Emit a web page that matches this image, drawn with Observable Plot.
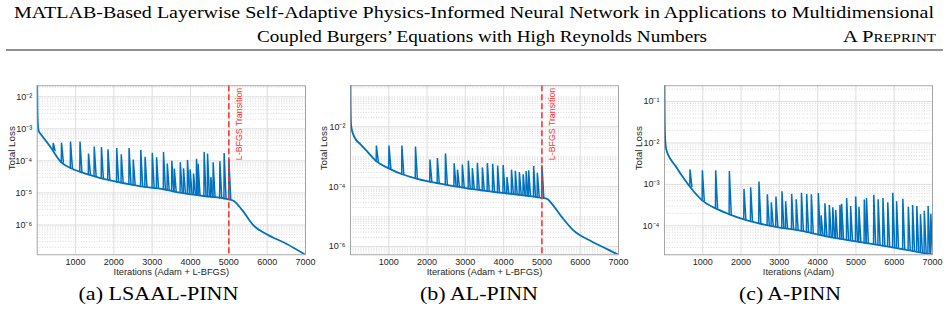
<!DOCTYPE html>
<html>
<head>
<meta charset="utf-8">
<script src="https://cdn.jsdelivr.net/npm/d3@7"></script>
<script src="https://cdn.jsdelivr.net/npm/@observablehq/plot@0.6"></script>
<style>
  body { margin: 0; background: #fff; }
  #page { position: relative; width: 948px; height: 311px; overflow: hidden; background: #fff; }
  .abs { position: absolute; left: 0; }
  .panel { position: absolute; top: 80px; }
</style>
</head>
<body>
<div id="page"></div>
<script>
// ---- Shared axis values ----
const iterTicks = [1000, 2000, 3000, 4000, 5000, 6000, 7000];
const transitionIter = 5000;

// ---- (a) LSAAL-PINN: smooth loss trend and loss spikes ----
const lsaalTrendIter = [1, 8, 20, 40, 86, 217, 347, 434, 522, 626, 870, 1130, 1650, 2090, 2700, 3300, 3570, 4350, 5000, 5130, 5350, 5650, 6000, 6500, 7000];
const lsaalTrendLoss = [2.2e-2, 4e-3, 1.3e-3, 8.5e-4, 7.0e-4, 4.4e-4, 2.7e-4, 1.9e-4, 1.3e-4, 9.1e-5, 6.0e-5, 4.5e-5, 2.9e-5, 2.2e-5, 1.6e-5, 1.3e-5, 1.1e-5, 8.0e-6, 6.3e-6, 5.6e-6, 2.9e-6, 9.5e-7, 5.0e-7, 2.6e-7, 1.17e-7];
const lsaalSpikeIter = [413, 629, 864, 1112, 1334, 1483, 1671, 1841, 2070, 2188, 2392, 2501, 2697, 2809, 2997, 3110, 3290, 3389, 3507, 3572, 3728, 3812, 3916, 3984, 4073, 4151, 4193, 4350, 4439, 4525, 4585, 4760, 4872, 4995];
const lsaalSpikePeak = [3.6e-4, 3.7e-4, 4.0e-4, 4.0e-4, 1.7e-4, 2.8e-4, 2.7e-4, 2.3e-4, 2.5e-4, 1.6e-4, 2.5e-4, 1.1e-4, 2.2e-4, 1.35e-4, 1.8e-4, 1.3e-4, 1.9e-4, 8.3e-5, 1.0e-4, 5.8e-5, 9.1e-5, 5.9e-5, 1.07e-4, 5.4e-5, 4.0e-5, 1.17e-4, 8.1e-5, 1.9e-4, 1.7e-4, 3.1e-5, 9.1e-5, 9.8e-5, 1.75e-4, 1.15e-4];
const lsaalSpikeBase = [2.1e-4, 9.1e-5, 6.0e-5, 4.6e-5, 3.8e-5, 3.3e-5, 2.9e-5, 2.6e-5, 2.2e-5, 2.1e-5, 1.9e-5, 1.75e-5, 1.6e-5, 1.55e-5, 1.45e-5, 1.4e-5, 1.3e-5, 1.25e-5, 1.15e-5, 1.1e-5, 1.05e-5, 1.0e-5, 9.6e-6, 9.3e-6, 9.0e-6, 8.7e-6, 8.5e-6, 8.0e-6, 7.7e-6, 7.4e-6, 7.2e-6, 6.8e-6, 6.5e-6, 6.3e-6];

// ---- (b) AL-PINN ----
const alTrendIter = [1, 5, 15, 40, 70, 130, 261, 436, 671, 1000, 1349, 1697, 2063, 2480, 3047, 3481, 4264, 5000, 5136, 5266, 5527, 5830, 6266, 6702, 7000];
const alTrendLoss = [0.234, 4e-2, 1.2e-2, 7.5e-3, 5.7e-3, 3.9e-3, 2.6e-3, 1.5e-3, 7.1e-4, 4.1e-4, 2.6e-4, 1.9e-4, 1.47e-4, 1.17e-4, 8.8e-5, 7.4e-5, 5.6e-5, 4.2e-5, 3.9e-5, 2.6e-5, 9.4e-6, 3.4e-6, 1.56e-6, 8.2e-7, 5.3e-7];
const alSpikeIter = [671, 1000, 1337, 1692, 2070, 2264, 2475, 2702, 2789, 2916, 3073, 3178, 3308, 3439, 3569, 3708, 3838, 3982, 4081, 4199, 4300, 4405, 4504, 4582, 4648, 4778, 4875, 4995];
const alSpikePeak = [2.37e-3, 2.37e-3, 2.37e-3, 2.2e-3, 8.1e-4, 9.1e-4, 1.29e-3, 6.0e-4, 3.7e-4, 5.5e-4, 7.4e-4, 4.2e-4, 6.3e-4, 4.4e-4, 6.1e-4, 5.8e-4, 5.1e-4, 5.3e-4, 2.1e-4, 3.7e-4, 3.4e-4, 3.1e-4, 2.6e-4, 3.3e-4, 3.5e-4, 4.9e-4, 2.9e-4, 5.2e-4];
const alSpikeBase = [7.1e-4, 4.1e-4, 2.65e-4, 1.9e-4, 1.47e-4, 1.3e-4, 1.17e-4, 1.05e-4, 1.0e-4, 9.4e-5, 8.8e-5, 8.4e-5, 8.0e-5, 7.5e-5, 7.0e-5, 6.6e-5, 6.3e-5, 6.0e-5, 5.9e-5, 5.7e-5, 5.5e-5, 5.3e-5, 5.1e-5, 4.9e-5, 4.8e-5, 4.6e-5, 4.4e-5, 4.2e-5];

// ---- (c) A-PINN (Adam only) ----
const aTrendIter = [1, 5, 15, 35, 70, 157, 287, 462, 661, 1000, 1350, 1697, 2055, 2462, 3003, 3507, 4290, 5162, 6031, 7000];
const aTrendLoss = [0.24, 5e-2, 1.5e-2, 8e-3, 6.0e-3, 4.1e-3, 2.8e-3, 1.6e-3, 8.9e-4, 4.0e-4, 2.6e-4, 1.9e-4, 1.45e-4, 1.15e-4, 9.1e-5, 7.8e-5, 5.4e-5, 4.0e-5, 2.95e-5, 2.0e-5];
const aSpikeIter = [661, 984, 1332, 1689, 2071, 2245, 2462, 2681, 2785, 2906, 3063, 3159, 3316, 3435, 3572, 3708, 3830, 4013, 4085, 4185, 4300, 4390, 4465, 4577, 4621, 4752, 4856, 4987, 5073, 5213, 5270, 5461, 5575, 5700, 5826, 5957, 6057, 6220, 6363, 6475, 6585, 6680, 6780, 6880, 6950];
const aSpikePeak = [2.3e-3, 2.2e-3, 2.2e-3, 2.1e-3, 7.8e-4, 8.5e-4, 1.17e-3, 5.8e-4, 3.7e-4, 5.1e-4, 6.8e-4, 3.9e-4, 5.9e-4, 4.4e-4, 6.3e-4, 5.9e-4, 5.8e-4, 6.2e-4, 1.8e-4, 3.5e-4, 3.2e-4, 2.8e-4, 2.4e-4, 3.2e-4, 3.4e-4, 4.7e-4, 3.0e-4, 5.1e-4, 2.9e-4, 4.3e-4, 4.7e-4, 5.6e-4, 4.4e-4, 4.7e-4, 3.7e-4, 6.3e-4, 3.9e-4, 4.5e-4, 2.9e-4, 3.2e-4, 3.0e-4, 1.9e-4, 2.3e-4, 3.0e-4, 1.95e-4];
const aSpikeBase = [8.9e-4, 4.1e-4, 2.7e-4, 1.9e-4, 1.44e-4, 1.29e-4, 1.15e-4, 1.05e-4, 1.0e-4, 9.5e-5, 8.9e-5, 8.7e-5, 8.3e-5, 7.9e-5, 7.6e-5, 7.1e-5, 6.8e-5, 6.2e-5, 6.0e-5, 5.8e-5, 5.5e-5, 5.3e-5, 5.1e-5, 4.9e-5, 4.9e-5, 4.7e-5, 4.5e-5, 4.3e-5, 4.1e-5, 3.9e-5, 3.8e-5, 3.6e-5, 3.5e-5, 3.3e-5, 3.2e-5, 3.0e-5, 2.95e-5, 2.75e-5, 2.6e-5, 2.5e-5, 2.4e-5, 2.3e-5, 2.2e-5, 2.15e-5, 2.1e-5];

// ---- Text ----
const headerLine1 = "MATLAB-Based Layerwise Self-Adaptive Physics-Informed Neural Network in Applications to Multidimensional";
const headerLine2 = "Coupled Burgers’ Equations with High Reynolds Numbers";
const headerTag = "A Preprint";
const captions = ["(a) LSAAL-PINN", "(b) AL-PINN", "(c) A-PINN"];

// ---- Styling ----
const BLUE = "#0072BD";
const RED = "#ff2e2e";
const SANS = "'Liberation Sans', Arial, Helvetica, sans-serif";
const SERIF = "'Liberation Serif', 'Times New Roman', serif";
const spikeFall = 55; // iterations the loss takes to fall back after a spike

const supMap = {"-": "⁻", "0": "⁰", "1": "¹", "2": "²", "3": "³", "4": "⁴", "5": "⁵", "6": "⁶", "7": "⁷", "8": "⁸", "9": "⁹"};
const pow10 = (d) => "10" + String(Math.round(Math.log10(d))).split("").map((c) => supMap[c]).join("");

function lossPanel(cfg) {
  const trend = cfg.trendIter.map((x, i) => ({x, y: cfg.trendLoss[i]}));
  const spikes = cfg.spikeIter.flatMap((s, i) => [
    {id: i, x: s, y: cfg.spikeBase[i]},
    {id: i, x: s + 6, y: cfg.spikePeak[i]},
    {id: i, x: s + spikeFall, y: cfg.spikeBase[i]}
  ]);
  const yDomain = d3.extent([...cfg.trendLoss, ...cfg.spikePeak, ...cfg.spikeBase]);
  const logTicks = d3.scaleLog().domain(yDomain).ticks();
  const minor = logTicks.filter((v) => !cfg.yTicks.some((t) => Math.abs(Math.log10(t) - Math.log10(v)) < 1e-9));

  return Plot.plot({
    width: 316,
    height: 200,
    marginLeft: cfg.marginLeft,
    marginRight: cfg.marginRight,
    marginTop: 5.3,
    marginBottom: 25.7,
    style: {fontFamily: SANS, fontSize: "9px", color: "#262626", background: "transparent", overflow: "visible"},
    x: {type: "linear", domain: [1, 7000]},
    y: {type: "log", domain: yDomain},
    marks: [
      Plot.gridY(minor, {stroke: "#c0c0c0", strokeOpacity: 1, strokeWidth: 0.6, strokeDasharray: "1,1.6"}),
      Plot.gridY(cfg.yTicks, {stroke: "#dedede", strokeOpacity: 1, strokeWidth: 1}),
      Plot.gridX(iterTicks, {stroke: "#dedede", strokeOpacity: 1, strokeWidth: 1}),
      Plot.axisX(iterTicks, {tickSize: 0, tickPadding: 4, label: null, tickFormat: (d) => String(d), fontSize: 9}),
      Plot.axisY(cfg.yTicks, {tickSize: 0, tickPadding: 5, label: null, tickFormat: pow10, fontSize: 9}),
      Plot.text([cfg.xLabel], {text: (d) => d, frameAnchor: "bottom", dy: 20, fontSize: 9.3, fill: "#262626"}),
      Plot.text(["Total Loss"], {text: (d) => d, frameAnchor: "left", rotate: -90, dx: cfg.yLabelDx, fontSize: 9.8, fill: "#262626"}),
      Plot.line(trend, {x: "x", y: "y", stroke: BLUE, strokeWidth: 1.8, curve: "monotone-x", clip: true}),
      Plot.line(spikes, {x: "x", y: "y", z: "id", stroke: BLUE, strokeWidth: 1.5, strokeLinejoin: "miter", clip: true}),
      cfg.transition ? Plot.ruleX([cfg.transition], {x: (d) => d, stroke: RED, strokeWidth: 1.5, strokeDasharray: "6,3"}) : null,
      cfg.transition ? Plot.text([cfg.transition], {x: (d) => d, text: () => "L-BFGS Transition", frameAnchor: "top", rotate: -90, textAnchor: "end", dx: 6.5, dy: 2, fill: RED, fontSize: 8.8}) : null,
      Plot.frame({stroke: "#949494", strokeWidth: 0.8})
    ]
  });
}

const page = d3.select("#page");

// Running header
const head = page.append("svg").attr("class", "abs").style("top", "0px").attr("width", 948).attr("height", 56)
  .style("font-family", SERIF).style("fill", "#000");
head.append("text").attr("x", 14).attr("y", 18).attr("font-size", 16.5)
  .attr("textLength", 920).attr("lengthAdjust", "spacingAndGlyphs").text(headerLine1);
head.append("text").attr("x", 257).attr("y", 42).attr("font-size", 16.5)
  .attr("textLength", 450).attr("lengthAdjust", "spacingAndGlyphs").text(headerLine2);
head.append("text").attr("x", 843).attr("y", 42).attr("font-size", 16.5).style("font-variant", "small-caps")
  .attr("textLength", 93).attr("lengthAdjust", "spacingAndGlyphs").text(headerTag);
head.append("line").attr("x1", 6).attr("x2", 943).attr("y1", 50).attr("y2", 50).attr("stroke", "#222").attr("stroke-width", 1);

// Three loss panels
const panels = [
  {left: 0, marginLeft: 36.7, marginRight: 11, yLabelDx: -25, trendIter: lsaalTrendIter, trendLoss: lsaalTrendLoss, spikeIter: lsaalSpikeIter, spikePeak: lsaalSpikePeak, spikeBase: lsaalSpikeBase, yTicks: [1e-2, 1e-3, 1e-4, 1e-5, 1e-6], xLabel: "Iterations (Adam + L-BFGS)", transition: transitionIter},
  {left: 316, marginLeft: 34, marginRight: 14, yLabelDx: -27, trendIter: alTrendIter, trendLoss: alTrendLoss, spikeIter: alSpikeIter, spikePeak: alSpikePeak, spikeBase: alSpikeBase, yTicks: [1e-2, 1e-4, 1e-6], xLabel: "Iterations (Adam + L-BFGS)", transition: transitionIter},
  {left: 632, marginLeft: 32, marginRight: 16, yLabelDx: -26, trendIter: aTrendIter, trendLoss: aTrendLoss, spikeIter: aSpikeIter, spikePeak: aSpikePeak, spikeBase: aSpikeBase, yTicks: [1e-1, 1e-2, 1e-3, 1e-4], xLabel: "Iterations (Adam)", transition: null}
];
for (const p of panels) {
  const div = page.append("div").attr("class", "panel").style("left", p.left + "px");
  div.node().appendChild(lossPanel(p));
}

// Sub-figure captions
const caps = page.append("svg").attr("class", "abs").style("top", "278px").attr("width", 948).attr("height", 33)
  .style("font-family", SERIF).style("fill", "#000");
const capX = [158.5, 479, 790];
const capW = [160, 118, 102];
captions.forEach((c, i) => {
  caps.append("text").attr("x", capX[i]).attr("y", 22).attr("text-anchor", "middle").attr("font-size", 19)
    .attr("textLength", capW[i]).attr("lengthAdjust", "spacingAndGlyphs").text(c);
});
</script>
</body>
</html>
